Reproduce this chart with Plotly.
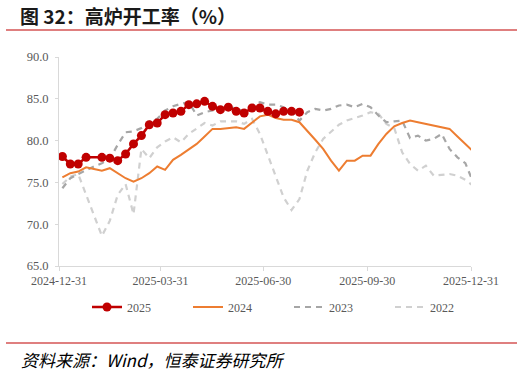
import plotly.graph_objects as go
import pandas as pd

# ---------------- data ----------------
dates_2025 = ["2025-01-03", "2025-01-10", "2025-01-17", "2025-01-24", "2025-02-07",
              "2025-02-14", "2025-02-21", "2025-02-28", "2025-03-07", "2025-03-14",
              "2025-03-21", "2025-03-28", "2025-04-04", "2025-04-11", "2025-04-18",
              "2025-04-25", "2025-05-02", "2025-05-09", "2025-05-16", "2025-05-23",
              "2025-05-30", "2025-06-06", "2025-06-13", "2025-06-20", "2025-06-27",
              "2025-07-04", "2025-07-11", "2025-07-18", "2025-07-25", "2025-08-01"]
v2025 = [78.1, 77.2, 77.2, 78.0, 78.0, 77.9, 77.6, 78.4, 79.6, 80.6,
         81.9, 82.1, 83.1, 83.3, 83.5, 84.3, 84.4, 84.7, 84.1, 83.7,
         84.0, 83.5, 83.3, 83.9, 83.9, 83.5, 83.2, 83.5, 83.5, 83.4]

# earlier years, weekly, placed on the 2025 calendar
dates_prev = [d.strftime("%Y-%m-%d") for d in pd.date_range("2025-01-03", periods=53, freq="7D")]
v2024 = [75.6, 76.1, 76.3, 76.8, 76.6, 76.4, 76.7, 76.1, 75.5, 75.1,
         75.5, 76.1, 76.9, 76.5, 77.7, 78.3, 78.9, 79.6, 80.5, 81.4,
         81.4, 81.5, 81.6, 81.4, 82.1, 82.9, 83.1, 82.7, 82.5, 82.5,
         82.2, 81.2, 80.1, 79.0, 77.6, 76.4, 77.6, 77.6, 78.2, 78.2,
         79.6, 80.8, 81.7, 82.1, 82.4, 82.2, 82.0, 81.8, 81.6, 81.4,
         80.5, 79.6, 78.7]
v2023 = [74.3, 75.5, 76.0, 76.5, 76.9, 77.3, 77.8, 79.5, 81.0, 81.1,
         81.5, 82.3, 82.6, 83.6, 84.1, 84.4, 84.6, 83.0, 83.4, 83.6,
         83.8, 84.1, 83.8, 83.5, 84.2, 84.6, 84.3, 84.3, 84.0, 83.4,
         82.4, 83.4, 83.8, 83.6, 83.8, 84.2, 84.3, 84.0, 84.4, 84.0,
         83.0, 82.2, 82.3, 82.4, 80.3, 80.6, 80.0, 80.2, 80.8, 79.0,
         78.0, 77.3, 75.0]
v2022 = [74.8, 75.7, 76.0, 73.6, 71.0, 68.6, 70.4, 73.5, 74.8, 71.2,
         79.0, 77.9, 79.2, 79.9, 80.4, 79.8, 80.8, 81.5, 82.1, 81.8,
         82.3, 82.3, 82.3, 82.0, 82.6, 80.8, 78.3, 75.6, 73.2, 71.7,
         73.0, 76.4, 78.6, 80.2, 81.1, 81.9, 82.4, 82.7, 83.0, 83.4,
         83.2, 82.0, 81.5, 78.6, 77.2, 76.4, 77.0, 75.8, 75.9, 76.0,
         75.8, 75.3, 74.6]

tick_dates = ["2024-12-31", "2025-03-31", "2025-06-30", "2025-09-30", "2025-12-31"]
y_ticks = [65, 70, 75, 80, 85, 90]

title_text = "图 32：高炉开工率（%）"
source_text = "资料来源：Wind，恒泰证券研究所"

# ---------------- layout geometry ----------------
W, H = 522, 374
L, R, T, B = 59, 51, 57, 108
PW, PH = W - L - R, H - T - B


def px(x):
    return (x - L) / PW


def py(y):
    return (H - B - y) / PH


serif = "Liberation Serif, Times New Roman, serif"
cjk = "Noto Sans CJK SC, sans-serif"
grey_txt = "#595959"

fig = go.Figure()

fig.add_trace(go.Scatter(
    x=dates_prev, y=v2022, name="2022", mode="lines", legendrank=4,
    line=dict(color="#D0D0D0", width=2.2, dash="6px,5px"),
))
fig.add_trace(go.Scatter(
    x=dates_prev, y=v2023, name="2023", mode="lines", legendrank=3,
    line=dict(color="#A6A6A6", width=2.2, dash="6px,5px"),
))
fig.add_trace(go.Scatter(
    x=dates_prev, y=v2024, name="2024", mode="lines", legendrank=2,
    line=dict(color="#ED7D31", width=2),
))
fig.add_trace(go.Scatter(
    x=dates_2025, y=v2025, name="2025", mode="lines+markers", legendrank=1,
    line=dict(color="#C00000", width=2.5),
    marker=dict(color="#C00000", size=9),
))

fig.update_layout(
    width=W, height=H,
    margin=dict(l=L, r=R, t=T, b=B, pad=0, autoexpand=False),
    paper_bgcolor="white", plot_bgcolor="white",
    showlegend=True,
    legend=dict(
        orientation="h",
        x=px(87), xanchor="left", y=py(307), yanchor="middle",
        font=dict(family=serif, size=12, color=grey_txt),
        entrywidth=56, entrywidthmode="pixels",
        bgcolor="rgba(0,0,0,0)",
    ),
    xaxis=dict(
        type="date", range=["2024-12-31", "2025-12-31"],
        tickvals=tick_dates, ticktext=tick_dates,
        showgrid=False, zeroline=False,
        showline=True, linecolor="#D9D9D9", linewidth=1,
        ticks="outside", ticklen=4, tickcolor="#D9D9D9",
        tickfont=dict(family=serif, size=12, color=grey_txt),
    ),
    yaxis=dict(
        range=[65, 90], tickvals=y_ticks, tickformat=".1f",
        showgrid=False, zeroline=False,
        showline=True, linecolor="#D9D9D9", linewidth=1,
        ticks="outside", ticklen=3, tickcolor="#D9D9D9",
        ticklabelstandoff=4,
        tickfont=dict(family=serif, size=12.5, color=grey_txt),
    ),
    shapes=[
        dict(type="line", xref="paper", yref="paper",
             x0=px(6), x1=px(517), y0=py(30), y1=py(30),
             line=dict(color="#C00000", width=1.2)),
        dict(type="line", xref="paper", yref="paper",
             x0=px(6), x1=px(517), y0=py(343), y1=py(343),
             line=dict(color="#C00000", width=1.2)),
    ],
    annotations=[
        dict(text="<b>" + title_text + "</b>", xref="paper", yref="paper",
             x=px(18), y=py(15), xanchor="left", yanchor="middle",
             showarrow=False, font=dict(family=cjk, size=19, color="#1a1a1a")),
        dict(text="<i>" + source_text + "</i>", xref="paper", yref="paper",
             x=px(19), y=py(359), xanchor="left", yanchor="middle",
             showarrow=False, font=dict(family=cjk, size=17, color="#000000")),
    ],
)

fig.write_html("out.html", config={"displayModeBar": False})

# remove the browser's default page margin so the figure sits at (0, 0)
with open("out.html", "r", encoding="utf-8") as f:
    html = f.read()
html = html.replace("<body>", '<body style="margin:0;padding:0;">', 1)
with open("out.html", "w", encoding="utf-8") as f:
    f.write(html)
